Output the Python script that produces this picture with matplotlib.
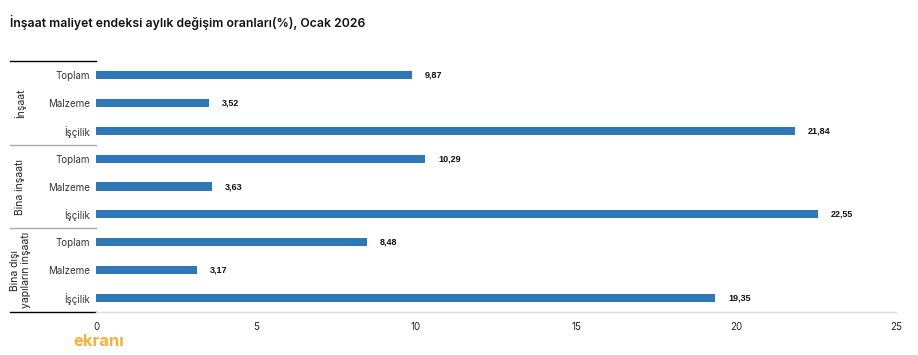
import matplotlib.pyplot as plt
import numpy as np

# data
groups = ["İnşaat", "Bina inşaatı", "Bina dışı\nyapıların inşaatı"]
components = ["Toplam", "Malzeme", "İşçilik"]
insaat = [9.87, 3.52, 21.84]
bina = [10.29, 3.63, 22.55]
bina_disi = [8.48, 3.17, 19.35]
x_ticks = [0, 5, 10, 15, 20, 25]

plt.rcParams['font.family'] = ['Inter', 'DejaVu Sans']

BAR = '#2e78b7'
DARK = '#222222'
GREY = '#dddddd'

values = insaat + bina + bina_disi
labels = components * len(groups)
ypos = np.arange(len(values))

fig = plt.figure(figsize=(9.18, 3.55), dpi=100, facecolor='white')
ax = fig.add_axes([96 / 918, 1 - 312 / 355, 800 / 918, 251 / 355])

ax.barh(ypos, values, height=0.29, color=BAR, zorder=3)
for y, v in zip(ypos, values):
    ax.text(v + 0.4, y, f"{v:.2f}".replace('.', ','), va='center', ha='left',
            fontsize=6.5, fontweight='bold', color='#111111',
            family=['Liberation Sans', 'DejaVu Sans'])

ax.set_ylim(len(values) - 0.5, -0.5)
ax.set_xlim(0, 25)
ax.set_xticks(x_ticks)
ax.set_xticklabels([str(t) for t in x_ticks], fontsize=7, color=DARK)
ax.set_yticks(ypos)
ax.set_yticklabels(labels, fontsize=7, color='#333333')
ax.tick_params(axis='both', length=0)
ax.tick_params(axis='x', pad=7)
ax.tick_params(axis='y', pad=4)

for s in ['top', 'right', 'left']:
    ax.spines[s].set_visible(False)
ax.spines['bottom'].set_color(GREY)
ax.spines['bottom'].set_linewidth(1)

# group separators and labels
tr = ax.get_yaxis_transform()
x0 = -86 / 800
n = len(components)
bounds = [-0.5 + i * n for i in range(len(groups) + 1)]
for i, b in enumerate(bounds):
    edge = i == 0 or i == len(groups)
    ax.plot([x0, 0], [b, b], transform=tr, clip_on=False,
            color='black' if edge else '#aaaaaa', lw=1)
for i, g in enumerate(groups):
    mid = (bounds[i] + bounds[i + 1]) / 2
    ax.text(x0 + 0.013, mid, g, transform=tr, rotation=90, ha='center', va='center',
            fontsize=7.5, color=DARK, multialignment='center')

fig.text(10 / 918, 1 - 22 / 355, "İnşaat maliyet endeksi aylık değişim oranları(%), Ocak 2026",
         fontsize=8.8, fontweight='semibold', color='#111111', ha='left', va='center')

# watermark
fig.text(73 / 918, 1 - 341 / 355, "ekranı", fontsize=12, fontweight='bold',
         color='#f5a623', ha='left', va='center', alpha=0.9)

fig.savefig('out.png', dpi=100, facecolor='white')
